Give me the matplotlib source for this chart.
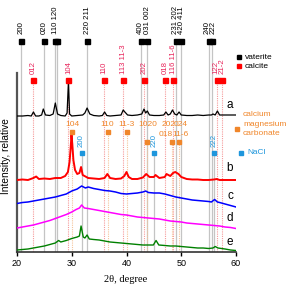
import matplotlib
matplotlib.use("Agg")
import matplotlib.pyplot as plt

# ---------------- data ----------------
# curve a (black)
a_x = [20, 21, 22, 22.6, 23.0, 23.4, 24, 24.5, 24.8, 25.2, 26, 26.6, 27.0, 27.4, 28, 28.8, 29.15, 29.4, 29.6,
       30, 31, 32, 32.4, 32.8, 33.3, 34, 35, 35.6, 36.0, 36.4, 37, 38, 39, 39.4, 39.7, 40.2, 41, 42, 42.8,
       43.2, 43.5, 43.8, 44.2, 45, 46, 46.8, 47.2, 47.6, 48.0, 48.4, 48.8, 49.2, 49.6, 50.0, 51, 52, 53, 54,
       55, 55.5, 55.8, 56.2, 56.6, 57, 58, 59, 60]
a_y = [136, 136, 136.5, 136, 140, 136, 136, 137, 143, 137, 136.5, 138, 149, 138, 136.5, 136, 139, 171, 138,
       136, 136.5, 137, 139, 144, 138, 136.5, 136, 136.5, 140, 136.5, 136, 136.5, 137, 142, 140, 137, 136.5,
       137, 138, 143, 139, 141, 137, 136.5, 136.5, 137, 140, 137, 138, 142, 138, 137, 140, 137, 136.5, 136.5,
       137, 136.5, 137, 137, 138, 137, 141, 137, 137, 137, 137]

# curve b (red)
b_x = [20, 21, 22, 23, 23.5, 24, 25, 26, 27, 28, 28.8, 29.3, 29.6, 29.8, 29.95, 30.1, 30.3, 30.6, 31.0, 31.4,
       31.7, 32.0, 33, 34, 35, 36, 36.5, 37, 38, 39, 39.6, 40.0, 40.4, 41, 42, 43, 43.6, 44.2, 45, 45.3, 46,
       47, 47.3, 48, 48.5, 48.9, 49.5, 50, 51, 52, 53, 54, 55, 56, 56.5, 57, 58, 59, 60]
b_y = [72, 72.5, 72, 74, 75.5, 73, 73.5, 73, 74, 74, 76, 80, 90, 104, 117, 108, 92, 82, 78, 79,
       85, 77, 74, 73.5, 73, 74, 78, 74, 73, 73.5, 76, 80, 75, 73, 73, 74.5, 78, 75, 75, 77, 74,
       75, 78, 76, 79, 80, 78, 75, 73, 72.5, 72.5, 72, 72, 72.5, 73, 72, 72, 72, 72]

# curve c (blue)
c_x = [20, 21, 22, 23, 24, 25, 26, 27, 28, 29, 30, 31, 31.8, 32.5, 33, 34, 35, 36, 37, 38, 39, 40, 41, 42,
       43, 43.5, 44, 45, 46, 47, 48, 49, 50, 51, 52, 53, 54, 55, 55.5, 56.1, 56.6, 57, 58, 59, 60]
c_y = [48.5, 49.5, 50, 51, 52, 53, 54, 55, 56.5, 58, 61, 63, 66, 64, 65, 63.5, 62.5, 61.5, 61, 60, 58.5, 58,
       58.5, 59, 60, 61, 59.5, 59, 59, 58, 56.5, 55, 54, 53, 52, 51.5, 51, 50.5, 50, 52.5, 50, 49.5, 48,
       46.5, 45]

# curve d (magenta)
d_x = [20, 21, 22, 23, 24, 25, 26, 27, 28, 29, 30, 30.8, 31.4, 31.8, 32.3, 33, 34, 35, 36, 37, 38, 39, 40,
       41, 42, 43, 44, 45, 46, 47, 48, 49, 50, 51, 52, 53, 54, 55, 56, 57, 58, 59, 60]
d_y = [24, 25, 26, 27, 28.5, 30, 31.5, 33.5, 35.5, 37.5, 40, 42.5, 44, 47, 44, 43.5, 42.5, 41.5, 40.5, 39.5,
       38.5, 37.5, 37, 36, 35, 34.5, 34, 33.5, 33, 32, 31, 30.5, 30, 29, 28.5, 28, 27.5, 27, 26.5, 26, 25,
       24.5, 23.5]

# curve e (green)
e_x = [20, 22, 24, 25, 26, 27, 27.6, 28, 29, 30, 31, 31.4, 31.7, 32.1, 32.4, 32.8, 33.2, 34, 35, 36, 37, 38,
       39, 40, 41, 42, 43, 44, 44.9, 45.4, 45.9, 47, 48, 49, 50, 51, 52, 53, 54, 55, 55.8, 56.2, 56.7, 58,
       59, 60]
e_y = [2, 3, 5, 6, 7.5, 9, 11.5, 10, 11.5, 13.5, 15, 16, 26, 15, 14, 17, 13, 12.5, 12, 11, 10, 9.5, 9, 8.5,
       8, 7.5, 7, 7, 7, 11.5, 7, 6.5, 6, 6, 5.5, 5, 4.5, 4, 4, 3.5, 4, 5.5, 4, 3, 2, 1.5]

curve_names = ["a", "b", "c", "d", "e"]

# reference positions (2theta)
vaterite_pos = [20.8, 24.9, 26.9, 27.3, 32.8, 42.6, 43.7, 49.0, 49.9, 55.0, 55.7]
vaterite_lbl_pos = [20.8, 24.9, 27.1, 32.8, 42.5, 43.8, 48.9, 50.1, 54.8, 55.9]
vaterite_lbl = ["200", "020", "110 120", "220 211", "400", "031 002", "231 202", "420 411", "240", "222"]

calcite_pos = [23.0, 29.4, 35.95, 39.4, 43.15, 47.1, 48.5, 56.55, 57.4]
calcite_lbl_pos = [23.0, 29.4, 35.95, 39.4, 43.15, 47.0, 48.6, 56.35, 57.5]
calcite_lbl = ["012", "104", "110", "113 11-3", "202", "018", "116 11-6", "122", "21-2"]

cmc_pos = [30.05, 36.55, 40.0, 43.8, 48.35, 49.6]
cmc_lbl_top = ["104", "110", "11-3", "1020", "202", "024"]
cmc_lbl_top_pos = [30.05, 36.55, 40.0, 43.9, 47.6, 49.9]
cmc_lbl_low = ["018", "11-6"]
cmc_lbl_low_pos = [47.2, 49.8]

nacl_pos = [31.8, 45.1, 56.0]
nacl_lbl = ["200", "220", "222"]

x_ticks = [20, 30, 40, 50, 60]

# ---------------- styling ----------------
plt.rcParams['font.family'] = ['Liberation Sans', 'DejaVu Sans']
W, H = 289, 286
fig = plt.figure(figsize=(W / 100, H / 100), dpi=100)
ax = fig.add_axes([17 / W, 34 / H, 219 / W, 252 / H])
ax.set_xlim(20, 60)
ax.set_ylim(0, 252)

ORANGE = "#f0862a"
BLUE = "#1e96dc"
PINK = "#e8245a"
GREYL = "#c4c4c4"

# vertical reference lines
y_vat, y_cal, y_nacl = 211, 172, 99
cmc_mark_y = [120.5, 120.5, 120.5, 110, 110, 110]
for p in vaterite_pos:
    ax.plot([p, p], [0, y_vat], color=GREYL, lw=0.9, zorder=1)
for p in nacl_pos:
    ax.plot([p, p], [0, y_nacl], color=GREYL, lw=0.9, zorder=1)
for p in calcite_pos:
    ax.plot([p, p], [0, y_cal], color="#f59a9a", lw=0.8, ls=(0, (1, 1)), zorder=1)
for p, yy in zip(cmc_pos, cmc_mark_y):
    ax.plot([p, p], [0, yy], color="#f5c49a", lw=0.8, ls=(0, (1, 1)), zorder=1)

# markers
ax.plot(vaterite_pos, [y_vat] * len(vaterite_pos), 's', color='black', ms=3.6, zorder=4, clip_on=False)
ax.plot(calcite_pos, [y_cal] * len(calcite_pos), 's', color='red', ms=3.6, zorder=4)
ax.plot(cmc_pos, cmc_mark_y, 's', color=ORANGE, ms=3.0, zorder=4)
ax.plot(nacl_pos, [y_nacl] * len(nacl_pos), 's', color=BLUE, ms=3.0, zorder=4)

fs = 6
rfs = 5.6
for p, t in zip(vaterite_lbl_pos, vaterite_lbl):
    ax.text(p, 218, t, rotation=90, ha='center', va='bottom', fontsize=rfs, color='black')
for p, t in zip(calcite_lbl_pos, calcite_lbl):
    ax.text(p, 178, t, rotation=90, ha='center', va='bottom', fontsize=rfs, color=PINK)
for p, t in zip(cmc_lbl_top_pos, cmc_lbl_top):
    ax.text(p, 128, t, ha='center', va='center', fontsize=fs, color=ORANGE)
for p, t in zip(cmc_lbl_low_pos, cmc_lbl_low):
    ax.text(p, 118, t, ha='center', va='center', fontsize=fs, color=ORANGE)
for p, t in zip(nacl_pos, nacl_lbl):
    ax.text(p, 105, t, rotation=90, ha='center', va='bottom', fontsize=rfs, color=BLUE)

# curves
ax.plot(a_x, a_y, color='black', lw=0.9, zorder=3)
ax.plot(b_x, b_y, color='red', lw=1.4, zorder=3)
ax.plot(c_x, c_y, color='blue', lw=1.1, zorder=3)
ax.plot(d_x, d_y, color='magenta', lw=1.1, zorder=3)
ax.plot(e_x, e_y, color='green', lw=1.0, zorder=3)

# curve letters
for name, yy in zip(curve_names, [147, 84, 56, 34, 10]):
    ax.text(58.9, yy, name, ha='center', va='center', fontsize=8.5, color='black')

# legends
ax.plot([60.55], [195], 's', color='black', ms=3.2, clip_on=False)
ax.text(61.6, 194.5, "vaterite", ha='left', va='center', fontsize=fs)
ax.plot([60.55], [186], 's', color='red', ms=3.2, clip_on=False)
ax.text(61.6, 185.5, "calcite", ha='left', va='center', fontsize=fs)
ax.plot([60.1], [122.7], 's', color=ORANGE, ms=3.0, clip_on=False)
ax.text(61.3, 137, "calcium", ha='left', va='center', fontsize=fs, color=ORANGE)
ax.text(61.3, 128, "magnesium", ha='left', va='center', fontsize=fs, color=ORANGE)
ax.text(61.3, 118.5, "carbonate", ha='left', va='center', fontsize=fs, color=ORANGE)
ax.plot([61.0], [99], 's', color=BLUE, ms=3.0, clip_on=False)
ax.text(62.0, 99, "NaCl", ha='left', va='center', fontsize=fs, color=BLUE)

# axes style
for s in ['top', 'right']:
    ax.spines[s].set_visible(False)
ax.spines['left'].set_bounds(0, 179)
ax.spines['left'].set_color('#555555')
ax.spines['left'].set_linewidth(1.6)
ax.spines['bottom'].set_color('#333333')
ax.spines['bottom'].set_linewidth(1.2)
ax.set_yticks([])
ax.set_xticks(x_ticks)
ax.set_xticklabels([str(v) for v in x_ticks])
ax.tick_params(axis='x', direction='out', length=3, width=1, labelsize=6.5, pad=2)
ax.patch.set_alpha(0)

fig.text(6 / W, 1 - 156 / H, "Intensity, relative", rotation=90, ha='center', va='center', fontsize=7.3)
fig.text(126 / W, 1 - 279 / H, "2θ, degree", ha='center', va='center', fontsize=7.5,
         family=['Liberation Serif', 'DejaVu Serif'])

fig.savefig("out.png", dpi=100)
